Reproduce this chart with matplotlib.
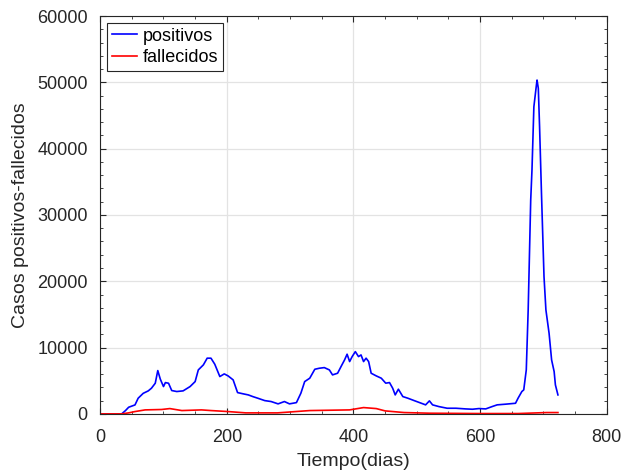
import matplotlib
matplotlib.use("Agg")
import matplotlib.pyplot as plt
from matplotlib.ticker import AutoMinorLocator

# positivos: (dia, casos)
dias_pos = [0, 20, 34, 40, 45, 55, 60, 68, 76, 81, 87, 91, 95, 100, 103, 108, 113,
            121, 131, 142, 150, 155, 163, 169, 175, 181, 189, 196, 202, 210, 217,
            226, 234, 241, 249, 260, 270, 281, 291, 299, 310, 317, 323, 331, 339,
            346, 354, 362, 367, 375, 381, 386, 390, 394, 398, 403, 408, 412, 416,
            420, 424, 428, 436, 444, 451, 457, 462, 466, 471, 478, 486, 496, 507,
            514, 520, 525, 535, 548, 562, 577, 588, 598, 609, 619, 627, 640, 656,
            660, 666, 669, 673, 676, 680, 682, 685, 689, 690, 692, 694, 697, 701,
            704, 709, 713, 717, 719, 723]
casos_pos = [0, 0, 0, 500, 1000, 1350, 2360, 3100, 3470, 3870, 4620, 6530, 5230,
             4120, 4720, 4620, 3520, 3370, 3470, 4120, 4870, 6630, 7390, 8400, 8400,
             7490, 5630, 6030, 5730, 5130, 3210, 3020, 2860, 2610, 2360, 2000, 1860,
             1510, 1860, 1510, 1700, 3120, 4870, 5380, 6730, 6880, 6980, 6630, 5880,
             6130, 7240, 8140, 9000, 7890, 8640, 9390, 8640, 8890, 7890, 8400, 7890,
             6130, 5730, 5380, 4630, 4720, 3870, 2860, 3720, 2610, 2360, 2000, 1610,
             1360, 1960, 1360, 1100, 850, 850, 750, 700, 800, 750, 1100, 1360, 1460,
             1600, 2360, 3370, 3620, 6630, 15680, 32260, 36780, 46330, 49600, 50350,
             49100, 43300, 33270, 20700, 15680, 12160, 8140, 6380, 4370, 2860]

# fallecidos
dias_fal = [0, 34, 45, 55, 71, 97, 110, 129, 160, 175, 202, 230, 280, 331, 394,
            416, 436, 450, 480, 520, 600, 660, 690, 705, 723]
casos_fal = [0, 0, 150, 350, 600, 660, 800, 500, 600, 500, 350, 150, 150, 500, 600,
             950, 800, 450, 200, 100, 50, 50, 150, 200, 200]

plt.rcParams['font.family'] = ['Liberation Sans', 'DejaVu Sans']

fig = plt.figure(figsize=(6.3, 4.73), dpi=100)
ax = fig.add_axes([0.159, 0.125, 0.804, 0.841])

ax.plot(dias_pos, casos_pos, color="#0000ff", lw=1.2, label="positivos")
ax.plot(dias_fal, casos_fal, color="#ff0000", lw=1.2, label="fallecidos")

ax.set_xlim(0, 800)
ax.set_ylim(0, 60000)
ax.set_xticks([0, 200, 400, 600, 800])
ax.set_yticks(range(0, 60001, 10000))
ax.xaxis.set_minor_locator(AutoMinorLocator())
ax.yaxis.set_minor_locator(AutoMinorLocator())
ax.grid(True, color="#e3e3e3", lw=0.9)
ax.set_axisbelow(True)
ax.tick_params(which="both", direction="in", top=True, right=True,
               colors="#262626", labelsize=13)
ax.tick_params(which="major", length=4)
ax.tick_params(which="minor", length=2)
ax.tick_params(axis="x", which="major", pad=11)
ax.tick_params(axis="y", which="major", pad=9)
for s in ax.spines.values():
    s.set_color("#262626")

ax.set_xlabel("Tiempo(dias)", fontsize=14, color="#262626", labelpad=5)
ax.set_ylabel("Casos positivos-fallecidos", fontsize=14, color="#262626", labelpad=6)

leg = ax.legend(loc="upper left", fontsize=13, fancybox=False, framealpha=1,
                edgecolor="#262626", handlelength=1.4, handletextpad=0.3,
                borderaxespad=0.4, borderpad=0.25, labelspacing=0.25)
leg.get_frame().set_linewidth(0.8)

plt.savefig("out.png", dpi=100)
